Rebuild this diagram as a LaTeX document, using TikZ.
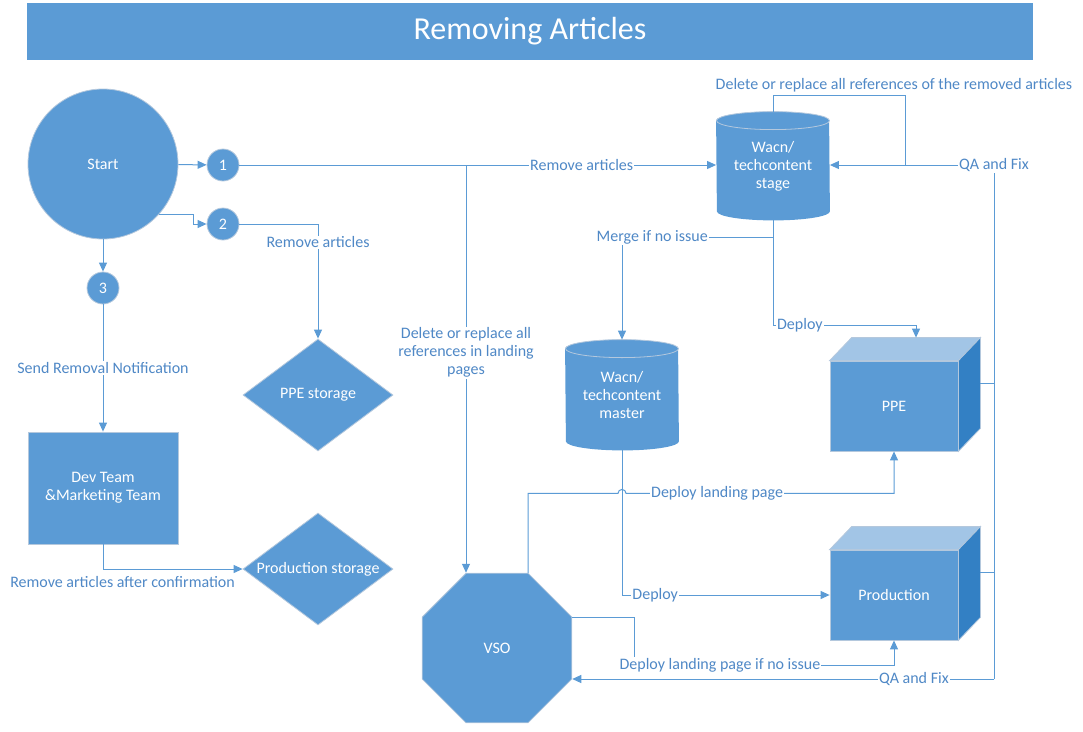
\documentclass[tikz,border=0pt]{standalone}
\usepackage{fontspec}
\setmainfont{Carlito}
\usetikzlibrary{arrows.meta,shapes.geometric,calc,backgrounds}

\definecolor{ofblue}{HTML}{5B9BD5}
\definecolor{oftop}{HTML}{A2C5E6}
\definecolor{ofside}{HTML}{3380C4}
\definecolor{oftxt}{HTML}{4F88C6}
\definecolor{ofedge}{HTML}{B4C8DD}

\tikzset{
  blk/.style={fill=ofblue, draw=ofedge, line width=0.8pt, text=white, align=center,
    inner sep=0pt, font=\fontsize{16}{18}\selectfont},
  store/.style={blk, diamond, aspect=1.34, inner sep=-6pt, minimum width=150pt, minimum height=112pt},
  db/.style={blk, fill=none, draw=none, minimum width=113pt},
  lbl/.style={text=oftxt, fill=white, inner sep=1pt, align=center,
    font=\fontsize{16}{18}\selectfont},
  ln/.style={draw=ofblue, line width=1pt},
  arr/.style={ln, -{Triangle[length=9pt,width=8pt]}},
}

\begin{document}
\begin{tikzpicture}[x=1pt,y=-1pt]
  \useasboundingbox (0,0) rectangle (1083,731);
  \node[blk, draw=none, minimum width=1006pt, minimum height=57pt,
    font=\fontsize{32}{36}\selectfont] (title) at (530,31.5) {Removing Articles};

  % left column
  \node[blk, circle, minimum size=150pt] (start) at (103,164) {Start};
  \node[blk, circle, minimum size=32pt] (n1) at (223,165) {1};
  \node[blk, circle, minimum size=32pt] (n2) at (223,224) {2};
  \node[blk, circle, minimum size=32pt] (n3) at (103,288) {3};
  \node[blk, minimum width=150pt, minimum height=112pt] (dev) at (103,488) {Dev Team\\\&Marketing Team};
  \node[store] (ppestore) at (318,395) {PPE storage};
  \node[store] (prodstore) at (318,569) {Production storage};

  % stores and servers
  \node[db, minimum height=108pt] (stage) at (773,166) {Wacn/\\techcontent\\stage};
  \node[db, minimum height=110pt] (master) at (622,395) {Wacn/\\techcontent\\master};
  \begin{pgfonlayer}{background}
    \foreach \c in {stage,master} {
      \fill[ofblue] ($(\c.north west)+(0,9)$) arc[x radius=56.5pt, y radius=9pt, start angle=180, end angle=0]
        -- ($(\c.south east)+(0,-9)$) arc[x radius=56.5pt, y radius=9pt, start angle=0, end angle=-180] -- cycle;
      \draw[ofedge, line width=0.8pt] ($(\c.north)+(0,9)$) ellipse[x radius=56.5pt, y radius=9pt];
    }
  \end{pgfonlayer}
  \node[blk, regular polygon, regular polygon sides=8, minimum size=162pt] (vso) at (497,648) {VSO};
  \node[blk, minimum width=128pt, minimum height=90pt] (ppe) at (894,406) {PPE};
  \node[blk, minimum width=128pt, minimum height=90pt] (prod) at (894,595) {Production};
  \foreach \c in {ppe,prod} {
    \filldraw[fill=oftop, draw=ofedge, line width=0.8pt] (\c.north west) -- ++(22,-23)
      -- ($(\c.north east)+(22,-23)$) -- (\c.north east) -- cycle;
    \filldraw[fill=ofside, draw=ofedge, line width=0.8pt] (\c.north east) -- ++(22,-23)
      -- ($(\c.south east)+(22,-23)$) -- (\c.south east) -- cycle;
  }

  \coordinate (br) at (466,165);
  \coordinate (loopend) at (905,165);
  \coordinate (bustop) at (994,165);
  \coordinate (busbot) at (994,679);

  % start branches
  \draw[arr] (start) -- (n1);
  \draw[arr] (start.-42) -- ++(34,0) |- (n2);
  \draw[arr] (start) -- (n3);
  \draw[arr] (n3) -- node[lbl]{Send Removal Notification} (dev);
  \draw[arr] (dev.south) |- node[lbl, below=6pt, pos=0.57, fill=none]{Remove articles after confirmation} (prodstore.west);
  \draw[arr] (n2) -| node[lbl, pos=0.58]{Remove articles} (ppestore.north);
  \draw[arr] (n1) -- node[lbl, pos=0.718]{Remove articles} (n1 -| stage.west);
  \draw[arr] (br) -- node[lbl, pos=0.46]{Delete or replace all\\references in landing\\pages} (br |- vso.north);

  % stage and master
  \draw[ln] (stage.north) -- ++(0,-16) -| node[lbl, above=2pt, pos=0.458, fill=none]{Delete or replace all references of the removed articles} (loopend);
  \draw[ln] (busbot) -- (bustop);
  \draw[arr] (bustop) -- node[lbl, pos=0]{QA and Fix} (bustop -| stage.east);
  \draw[arr] (busbot) -- node[lbl, pos=0.19]{QA and Fix} (busbot -| vso.east);
  \draw[ln] ($(ppe.east)+(22,-23)$) -- ++(14,0);
  \draw[ln] ($(prod.east)+(22,-23)$) -- ++(14,0);
  \draw[arr] (stage.south) -- ++(0,17) -| node[lbl, pos=0.4]{Merge if no issue} (master.north);
  \draw[arr] (stage.south) -- ++(0,105) -| node[lbl, pos=0.094]{Deploy} ($(ppe.north)+(22,-23)$);
  \draw[arr] (master.south) |- node[lbl, pos=0.58]{Deploy} (prod.west);

  % vso deploys
  \draw[arr] ($(vso.north)+(31,0)$) |- ($(master.south)+(-4,43)$) arc[start angle=180, end angle=360, radius=4]
    -| node[lbl, pos=0.17]{Deploy landing page} (ppe.south);
  \draw[arr] ($(vso.east)+(0,-31)$) -- ++(62,0) -- ++(0,48) -| node[lbl, pos=0.165]{Deploy landing page if no issue} (prod.south);
\end{tikzpicture}
\end{document}
